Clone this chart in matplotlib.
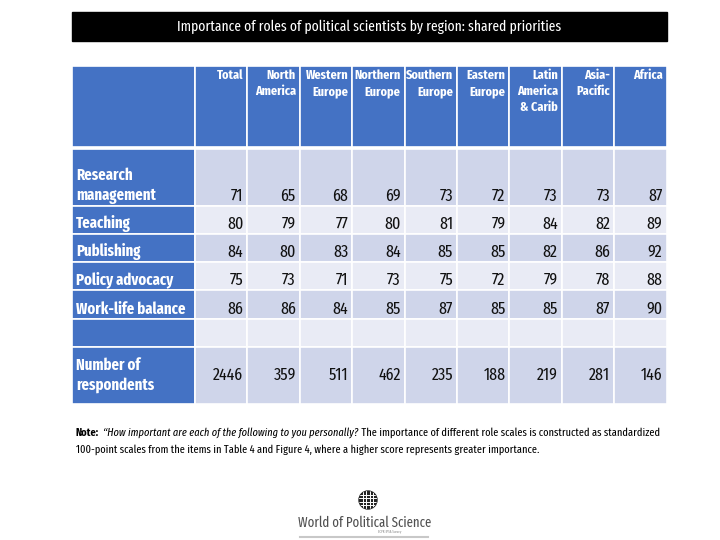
import matplotlib
matplotlib.use('Agg')
import matplotlib.pyplot as plt
from matplotlib.patches import Rectangle, Circle

plt.rcParams['font.family'] = ['Fira Sans Extra Condensed', 'Carlito', 'DejaVu Sans']

# --- data -------------------------------------------------------------
title = 'Importance of roles of political scientists by region: shared priorities'
columns = ['Total', 'North\nAmerica', 'Western\nEurope', 'Northern\nEurope', 'Southern\nEurope',
           'Eastern\nEurope', 'Latin\nAmerica\n& Carib', 'Asia-\nPacific', 'Africa']
row_labels = ['Research\nmanagement', 'Teaching', 'Publishing', 'Policy advocacy',
              'Work-life balance', '', 'Number of\nrespondents']
research_management = [71, 65, 68, 69, 73, 72, 73, 73, 87]
teaching = [80, 79, 77, 80, 81, 79, 84, 82, 89]
publishing = [84, 80, 83, 84, 85, 85, 82, 86, 92]
policy_advocacy = [75, 73, 71, 73, 75, 72, 79, 78, 88]
work_life_balance = [86, 86, 84, 85, 87, 85, 85, 87, 90]
blank_row = [''] * 9
respondents = [2446, 359, 511, 462, 235, 188, 219, 281, 146]
rows = [research_management, teaching, publishing, policy_advocacy,
        work_life_balance, blank_row, respondents]

note_bold = 'Note:'
note_italic = '\u201cHow important are each of the following to you personally?'
note_rest = ' The importance of different role scales is constructed as standardized'
note_line2 = '100-point scales from the items in Table 4 and Figure 4, where a higher score represents greater importance.'

# --- layout (pixels) --------------------------------------------------
left, label_w, col_w = 72, 123, 52.4
header_top, header_h = 66, 81
row_h = [57, 28, 28, 28, 29, 28, 57]
blue, dark, light = '#4472C4', '#CFD5EA', '#E9EBF5'

fig = plt.figure(figsize=(7.2, 5.4), dpi=100)
ax = fig.add_axes([0, 0, 1, 1])
ax.set_xlim(0, 720)
ax.set_ylim(540, 0)
ax.axis('off')

# title bar
right = left + label_w + col_w * len(columns)
ax.add_patch(Rectangle((left, 12), right - left, 29, color='black'))
ax.text((left + right) / 2, 27, title, color='white', fontsize=10.6, ha='center', va='center')

# header
edges = [left + label_w + col_w * i for i in range(len(columns) + 1)]
ax.add_patch(Rectangle((left, header_top), label_w, header_h, fc=blue, ec='white', lw=1.2))
for i, col in enumerate(columns):
    ax.add_patch(Rectangle((edges[i], header_top), col_w, header_h, fc=blue, ec='white', lw=1.2))
    ax.text(edges[i + 1] - 4, header_top + 3, col, color='white', fontsize=9.5,
            fontweight='bold', ha='right', va='top', linespacing=1.4)

# body
y = header_top + header_h + 2
for r, (lab, vals) in enumerate(zip(row_labels, rows)):
    h = row_h[r]
    fill = dark if r % 2 == 0 else light
    ax.add_patch(Rectangle((left, y), label_w, h, fc=blue, ec='white', lw=1.2))
    last = r == len(rows) - 1
    if last:
        ty, va = y + h / 2, 'center'
    else:
        ty, va = y + h - 2, 'bottom'
    ax.text(left + 4, ty, lab, color='white', fontsize=11.5, fontweight='bold',
            ha='left', va=va, linespacing=1.3)
    for i, v in enumerate(vals):
        ax.add_patch(Rectangle((edges[i], y), col_w, h, fc=fill, ec='white', lw=1.2))
        ax.text(edges[i + 1] - 4, ty, str(v), color='#111111', fontsize=12.5, ha='right', va=va)
    y += h

# note
note_size = 8.1
t1 = ax.text(76, 438, note_bold, fontsize=note_size, fontweight='bold', va='bottom', ha='left')
t2 = ax.annotate(note_italic, xy=(1, 0), xycoords=t1, xytext=(3, 0), textcoords='offset points',
                 fontsize=note_size, style='italic', va='bottom', ha='left')
ax.annotate(note_rest, xy=(1, 0), xycoords=t2, fontsize=note_size, va='bottom', ha='left')
ax.text(76, 455, note_line2, fontsize=note_size, va='bottom', ha='left')

# logo
globe = Circle((368, 500), 9, color='#222222')
ax.add_patch(globe)
for d in (-5.4, -1.8, 1.8, 5.4):
    ax.plot([359, 377], [500 + d, 500 + d], color='white', lw=0.7, clip_path=globe)
    ax.plot([368 + d, 368 + d], [491, 509], color='white', lw=0.7, clip_path=globe)
ax.text(365, 523, 'World of Political Science', fontsize=10, color='#505050',
        ha='center', va='center')
ax.text(390, 531, 'ECPR-IPSA Survey', fontsize=2.5, color='#888888', ha='center', va='center')
ax.plot([300, 428], [537, 537], color='#c8c8c8', lw=1.5)

fig.savefig('out.png', dpi=100)
